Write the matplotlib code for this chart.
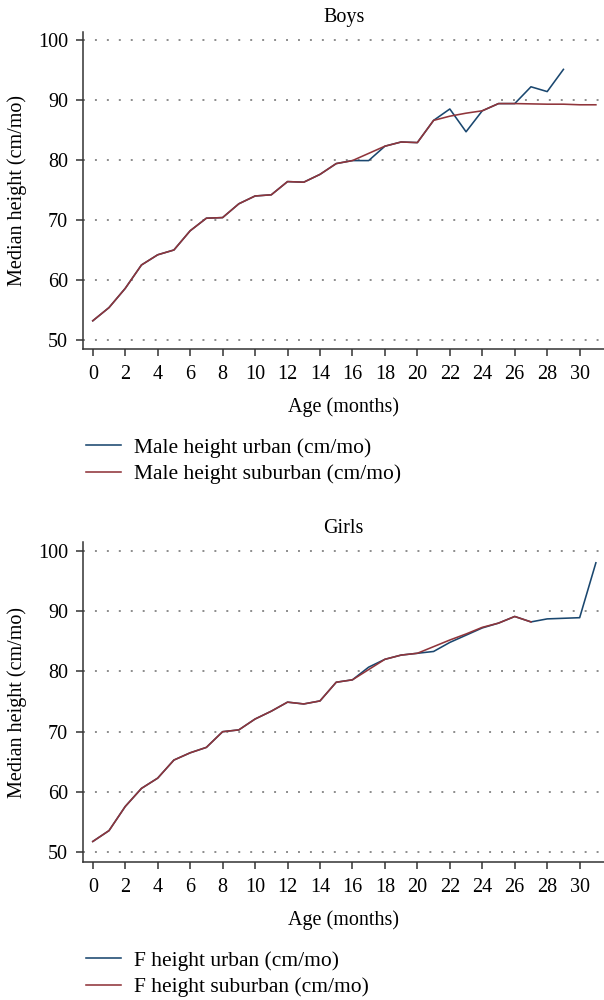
import numpy as np
import matplotlib
matplotlib.use("Agg")
import matplotlib.pyplot as plt

plt.rcParams['font.family'] = ['Liberation Serif', 'DejaVu Serif']
plt.rcParams['lines.scale_dashes'] = False

# median height by month of age
boys_months_urban = list(range(0, 30))
boys_urban = [53.2, 55.4, 58.6, 62.5, 64.2, 65.0, 68.2, 70.3, 70.4, 72.7,
              74.0, 74.2, 76.4, 76.3, 77.6, 79.4, 79.9, 79.9, 82.3, 83.0,
              82.9, 86.6, 88.5, 84.7, 88.2, 89.4, 89.4, 92.2, 91.4, 95.1]
boys_months_suburban = list(range(0, 32))
boys_suburban = [53.2, 55.4, 58.6, 62.5, 64.2, 65.0, 68.2, 70.3, 70.4, 72.7,
                 74.0, 74.2, 76.4, 76.3, 77.6, 79.4, 79.9, 81.1, 82.3, 83.0,
                 82.9, 86.6, 87.3, 87.8, 88.2, 89.4, 89.4, 89.35, 89.3, 89.3,
                 89.2, 89.2]

girls_months_urban = list(range(0, 32))
girls_urban = [51.8, 53.6, 57.6, 60.6, 62.3, 65.3, 66.5, 67.4, 70.0, 70.3,
               72.1, 73.4, 74.9, 74.6, 75.1, 78.2, 78.6, 80.7, 82.0, 82.7,
               83.0, 83.3, 84.8, 86.0, 87.2, 88.0, 89.1, 88.2, 88.7, 88.8,
               88.9, 98.0]
girls_months_suburban = list(range(0, 28))
girls_suburban = [51.8, 53.6, 57.6, 60.6, 62.3, 65.3, 66.5, 67.4, 70.0, 70.3,
                  72.1, 73.4, 74.9, 74.6, 75.1, 78.2, 78.6, 80.3, 82.0, 82.7,
                  83.0, 84.1, 85.2, 86.2, 87.3, 88.0, 89.1, 88.2]

x_ticks = list(range(0, 31, 2))
y_ticks = [50, 60, 70, 80, 90, 100]

navy = '#1a476f'
maroon = '#90353b'
spine_col = '#333333'

fig = plt.figure(figsize=(6.04, 10), dpi=100)
ax1 = fig.add_axes([0.138, 0.6507, 0.862, 0.3176])
ax2 = fig.add_axes([0.138, 0.1383, 0.862, 0.3193])


def style_axis(ax, title):
    ax.set_xlim(-0.58, 31.5)
    ax.set_ylim(48.45, 101.38)
    ax.set_xticks(x_ticks)
    ax.set_yticks(y_ticks)
    for s in ['top', 'right']:
        ax.spines[s].set_visible(False)
    for s in ['left', 'bottom']:
        ax.spines[s].set_color(spine_col)
        ax.spines[s].set_linewidth(1.1)
    ax.tick_params(axis='both', direction='out', length=5, width=1.1,
                   color=spine_col, labelsize=14.5)
    ax.tick_params(axis='y', pad=6)
    ax.tick_params(axis='x', pad=6.5)
    ax.grid(axis='y', color='#8c8c8c', linewidth=1.4, linestyle=(0, (1.4, 7.2)))
    ax.set_axisbelow(True)
    ax.set_title(title, fontsize=14.5, pad=7)
    ax.set_xlabel('Age (months)', fontsize=14.5, labelpad=9.5)
    ax.set_ylabel('Median height (cm/mo)', fontsize=14.5, labelpad=8)


leg_kw = dict(loc='upper left', frameon=False, fontsize=15.5, handlelength=1.65,
              handletextpad=0.6, labelspacing=0.3, borderaxespad=0,
              bbox_transform=fig.transFigure)

ax1.plot(boys_months_urban, boys_urban, color=navy, lw=1.15,
         label='Male height urban (cm/mo)')
ax1.plot(boys_months_suburban, boys_suburban, color=maroon, lw=1.15,
         label='Male height suburban (cm/mo)')
style_axis(ax1, 'Boys')
ax1.legend(bbox_to_anchor=(0.128, 0.571), **leg_kw)

ax2.plot(girls_months_urban, girls_urban, color=navy, lw=1.15,
         label='F height urban (cm/mo)')
ax2.plot(girls_months_suburban, girls_suburban, color=maroon, lw=1.15,
         label='F height suburban (cm/mo)')
style_axis(ax2, 'Girls')
ax2.legend(bbox_to_anchor=(0.128, 0.058), **leg_kw)

fig.savefig('out.png', dpi=100)
